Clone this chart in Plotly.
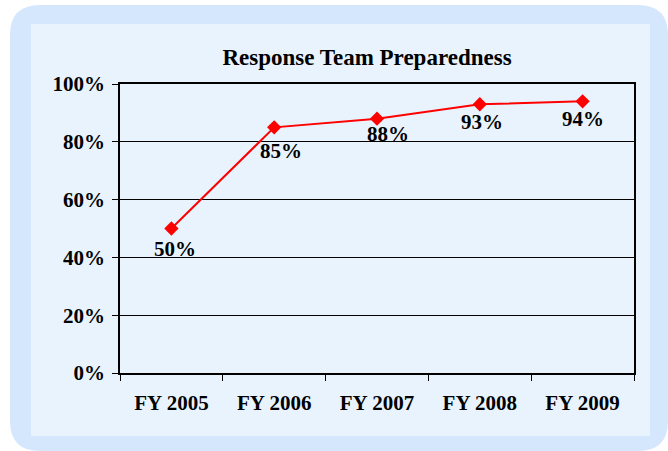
import plotly.graph_objects as go

categories = ["FY 2005", "FY 2006", "FY 2007", "FY 2008", "FY 2009"]
values = [50, 85, 88, 93, 94]
labels = ["50%", "85%", "88%", "93%", "94%"]
y_tickvals = [0, 20, 40, 60, 80, 100]
y_ticktext = ["0%", "20%", "40%", "60%", "80%", "100%"]

# label placement tweaks (pixels), as in the original chart
label_dx = [4, 7, 11, 2, 0]
label_dy = [-20, -24, -15, -18, -18]

W, H = 668, 451
L, R, T, B = 120, 634, 84, 373

def px(x):
    return (x - L) / (R - L)

def py(y):
    return (B - y) / (B - T)

def rounded_path(x0, y0, x1, y1, r):
    return (f"M {px(x0 + r)},{py(y0)} L {px(x1 - r)},{py(y0)} "
            f"Q {px(x1)},{py(y0)} {px(x1)},{py(y0 + r)} "
            f"L {px(x1)},{py(y1 - r)} Q {px(x1)},{py(y1)} {px(x1 - r)},{py(y1)} "
            f"L {px(x0 + r)},{py(y1)} Q {px(x0)},{py(y1)} {px(x0)},{py(y1 - r)} "
            f"L {px(x0)},{py(y0 + r)} Q {px(x0)},{py(y0)} {px(x0 + r)},{py(y0)} Z")

FONT = "Liberation Serif, Times New Roman, serif"

fig = go.Figure()
fig.add_trace(go.Scatter(
    x=categories, y=values, mode="lines+markers",
    line=dict(color="#ff0000", width=2),
    marker=dict(symbol="diamond", size=11, color="#ff0000"),
    cliponaxis=False, hoverinfo="skip",
))

annotations = []
for c, v, t, dx, dy in zip(categories, values, labels, label_dx, label_dy):
    annotations.append(dict(
        x=c, y=v, xref="x", yref="y", text=f"<b>{t}</b>", showarrow=False,
        xanchor="center", yanchor="middle", xshift=dx, yshift=dy,
        font=dict(family=FONT, size=21, color="#000000"),
    ))

fig.update_layout(
    width=W, height=H,
    margin=dict(l=L, r=W - R, t=T, b=H - B),
    paper_bgcolor="#ffffff",
    plot_bgcolor="#e9f3fe",
    showlegend=False,
    annotations=annotations,
    title=dict(text="<b>Response Team Preparedness</b>", xref="container",
               x=367 / W, xanchor="center",
               y=1 - 57 / H, yanchor="middle",
               font=dict(family=FONT, size=23, color="#000000")),
    shapes=[
        dict(type="path", xref="paper", yref="paper",
             path=rounded_path(10, 5, 668, 451, 30),
             fillcolor="#d5e7fd", line=dict(width=0), layer="below"),
        dict(type="rect", xref="paper", yref="paper",
             x0=px(31), x1=px(650), y0=py(436), y1=py(24),
             fillcolor="#e9f3fe", line=dict(width=0), layer="below"),
    ],
)

fig.update_xaxes(
    type="category", tickson="boundaries", ticks="outside", ticklen=6,
    tickcolor="#000000", tickwidth=1, ticklabelstandoff=10,
    showline=True, linecolor="#000000", linewidth=1.5, mirror=True,
    showgrid=False,
    tickfont=dict(family=FONT, size=21, color="#000000", weight="bold"),
    range=[-0.5, 4.5],
)
fig.update_yaxes(
    range=[0, 100], tickvals=y_tickvals, ticktext=y_ticktext,
    ticks="outside", ticklen=6, tickcolor="#000000", tickwidth=1,
    ticklabelstandoff=3,
    showline=True, linecolor="#000000", linewidth=1.5, mirror=True,
    showgrid=True, gridcolor="#000000", gridwidth=1, zeroline=False,
    tickfont=dict(family=FONT, size=21, color="#000000", weight="bold"),
)

fig.write_html("out.html", config={"displayModeBar": False},
               post_script="document.body.style.margin='0';document.body.style.overflow='hidden';")
